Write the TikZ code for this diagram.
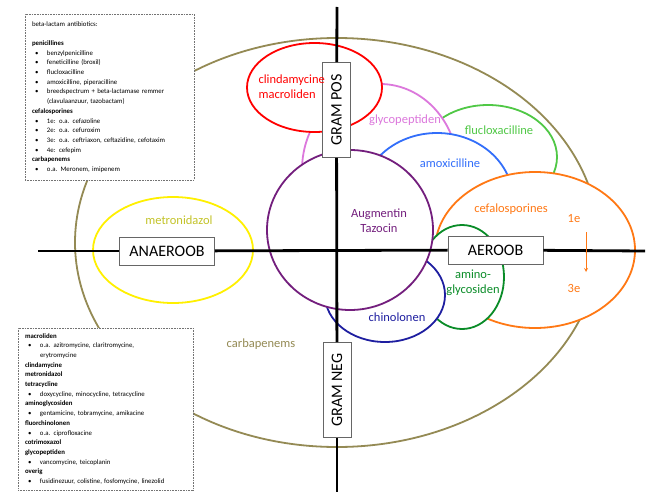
\documentclass[tikz,border=0pt]{standalone}
\usepackage{fontspec}
\setmainfont{Carlito}
\usepackage{xcolor}
\usepackage{tikz}
\usetikzlibrary{shapes.geometric, arrows}
\definecolor{kaki}{RGB}{148,138,84}
\definecolor{orchidline}{RGB}{220,120,220}
\definecolor{fluclox}{RGB}{80,200,70}
\definecolor{amoxi}{RGB}{50,110,250}
\definecolor{augm}{RGB}{115,30,125}
\definecolor{cefal}{RGB}{255,120,20}
\definecolor{amino}{RGB}{10,140,40}
\definecolor{chino}{RGB}{30,30,160}
\definecolor{metro}{RGB}{255,240,0}
\definecolor{metrotext}{RGB}{195,195,40}
\newcommand{\bul}[1]{\hspace*{3pt}\makebox[12pt][l]{\textbullet}#1}
\newcommand{\cont}[1]{\hspace*{15pt}#1}
\tikzstyle{group} = [ellipse, draw, fill=white, line width=1.8pt, inner sep=0pt]
\tikzstyle{axislabel} = [rectangle, draw=black!60, fill=white, line width=0.8pt, minimum width=95, minimum height=28, inner sep=0pt, font=\fontsize{16}{18}\selectfont]
\tikzstyle{listbox} = [rectangle, draw=black!55, dashed, dash pattern=on 1pt off 0.6pt, fill=white, align=left, inner xsep=7pt, inner ysep=0pt, font=\fontsize{6.8}{9.7}\selectfont]
\tikzstyle{axis} = [line width=2.8pt]
\tikzstyle{drug} = [font=\fontsize{12.5}{15}\selectfont, align=center]
\tikzstyle{arrow} = [thick,->,>=stealth]

\begin{document}
\begin{tikzpicture}[x=1pt, y=-1pt]
\useasboundingbox (0,0) rectangle (652,492);
\node (all) [group, draw=kaki, minimum width=524, minimum height=409] at (337,242.5) {};
\node (flucl) [group, draw=fluclox, minimum width=138, minimum height=104] at (488,157) {};
\node (glyco) [group, draw=orchidline, minimum width=156, minimum height=172] at (380,170) {};
\node (amox) [group, draw=amoxi, minimum width=152, minimum height=134] at (437,200) {};
\node (cef) [group, draw=cefal, minimum width=200, minimum height=156] at (535,250) {};
\node (amin) [group, draw=amino, minimum width=84, minimum height=104] at (462,277) {};
\node (chin) [group, draw=chino, minimum width=120, minimum height=94] at (385,295) {};
\node (aug) [group, draw=augm, minimum width=166, minimum height=160] at (350,230) {};
\node (clin) [group, draw=red, minimum width=135, minimum height=89] at (314.5,87.5) {};
\node (metr) [group, draw=metro, minimum width=160, minimum height=106] at (173,250) {};
\coordinate (vtop) at (337,7);
\coordinate (vbot) at (337,492);
\coordinate (hleft) at (38,251);
\coordinate (hright) at (645,251);
\node (pos) [axislabel, rotate=90] at (336.5,110) {GRAM POS};
\node (neg) [axislabel, rotate=90] at (337,390) {GRAM NEG};
\node (anaer) [axislabel] at (167,251) {ANAEROOB};
\node (aer) [axislabel] at (495.5,250) {AEROOB};
\draw [axis] (vtop) -- (pos);
\draw [axis] (pos) -- (neg);
\draw [axis] (neg) -- (vbot);
\draw [axis] (hleft) -- (anaer);
\draw [axis] (anaer) -- (aer);
\draw [axis] (aer) -- (hright);
\node (betalact) [listbox, text width=155, minimum height=166] at (109.5,97) {beta-lactam antibiotics:\\[9.7pt]
\textbf{penicillines}\\
\bul{benzylpenicilline}\\
\bul{feneticilline (broxil)}\\
\bul{flucloxacilline}\\
\bul{amoxicilline, piperacilline}\\
\bul{breedspectrum + beta-lactamase remmer}\\
\cont{(clavulaanzuur, tazobactam)}\\
\textbf{cefalosporines}\\
\bul{1e: o.a. cefazoline}\\
\bul{2e: o.a. cefuroxim}\\
\bul{3e: o.a. ceftriaxon, ceftazidine, cefotaxim}\\
\bul{4e: cefepim}\\
\textbf{carbapenems}\\
\bul{o.a. Meronem, imipenem}};
\node (overige) [listbox, text width=161, minimum height=162] at (105.5,409) {\textbf{macroliden}\\
\bul{o.a. azitromycine, claritromycine,}\\
\cont{erytromycine}\\
\textbf{clindamycine}\\
\textbf{metronidazol}\\
\textbf{tetracycline}\\
\bul{doxycycline, minocycline, tetracycline}\\
\textbf{aminoglycosiden}\\
\bul{gentamicine, tobramycine, amikacine}\\
\textbf{fluorchinolonen}\\
\bul{o.a. ciprofloxacine}\\
\textbf{cotrimoxazol}\\
\textbf{glycopeptiden}\\
\bul{vancomycine, teicoplanin}\\
\textbf{overig}\\
\bul{fusidinezuur, colistine, fosfomycine, linezolid}};
\node (clintext) [drug, red, align=left, anchor=west] at (255,87) {clindamycine\\macroliden};
\node (glycotext) [drug, orchidline] at (405,120) {glycopeptiden};
\node (flucltext) [drug, fluclox] at (499,130) {flucloxacilline};
\node (amoxtext) [drug, amoxi] at (450,163) {amoxicilline};
\node (augtext) [drug, augm] at (379,221) {Augmentin\\Tazocin};
\node (ceftext) [drug, cefal] at (511,209) {cefalosporines};
\node (first) [drug, cefal] at (574,219) {1e};
\node (third) [drug, cefal] at (574,288) {3e};
\node (amintext) [drug, amino] at (473,283) {amino-\\glycosiden};
\node (chintext) [drug, chino] at (397,317) {chinolonen};
\node (metrtext) [drug, metrotext] at (179,220) {metronidazol};
\node (carbtext) [drug, kaki] at (261,344) {carbapenems};
\coordinate (gen1) at (586,232);
\coordinate (gen3) at (586,272);
\draw [arrow, cefal] (gen1) -- (gen3);
\end{tikzpicture}
\end{document}
